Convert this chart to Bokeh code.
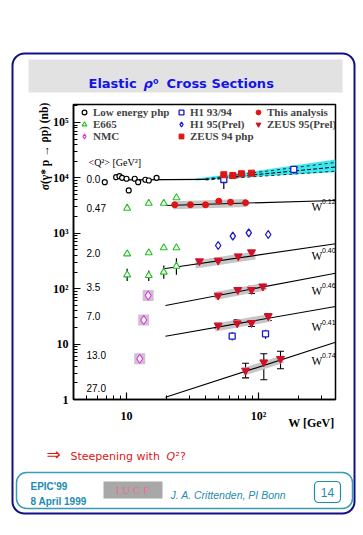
import math
from bokeh.plotting import figure
from bokeh.models import (ColumnDataSource, Whisker, TeeHead, Legend, LegendItem,
                          FixedTicker, Range1d, LinearScale)
from bokeh.core.properties import value
from bokeh.embed import file_html
from bokeh.resources import INLINE

# ---------------- data ----------------
# Low energy photoproduction, Q^2 = 0
lowE_W = [6.85, 8.35, 8.85, 9.27, 10.0, 10.4, 11.55, 12.26, 13.9, 14.76, 16.9]
lowE_sig = [8360, 10300, 10740, 10040, 9640, 5930, 9640, 8360, 9250, 8970, 10040]

# E665
e665_W = [10.12, 14.75, 19.17, 23.9, 10.12, 14.75, 19.17, 23.9, 10.12, 14.75, 19.17, 23.9]
e665_sig = [2840, 3490, 3490, 4370, 426, 445, 547, 547, 178, 173, 199, 255]
e665_errW = [10.12, 14.75, 19.17, 23.9]
e665_lo = [137, 137, 151, 178]
e665_hi = [229, 213, 262, 355]

# NMC
nmc_W = [14.6, 13.5, 12.6]
nmc_sig = [75.4, 27.2, 5.43]

# H1 93/94
h1a_W = [54.6, 185.0, 63.2, 113.0]
h1a_sig = [9350, 14200, 13.9, 15.3]
h1a_lo = [6290, 11850, 11.6, 12.5]
h1a_hi = [11850, 16400, 16.4, 18.1]

# H1 95 (Prel)
h1b_W = [49.5, 63.9, 84.4, 118.5]
h1b_sig = [602, 887, 1021, 951]

# This analysis (Q^2 = 0.47)
this_W = [23.2, 30.5, 39.7, 50.0, 61.4, 79.8]
this_sig = [3270, 3270, 3270, 3800, 3640, 3550]

# ZEUS 94 php
z94_W = [54.6, 63.9, 74.3, 88.5]
z94_sig = [11380, 11050, 11850, 12160]

# ZEUS 95 (Prel): Q^2 = 2.0, 3.5, 7.0, 13.0
z95_W = [35.7, 49.5, 70.2, 88.5,
         49.5, 69.7, 88.5, 107.8,
         49.5, 69.0, 88.5, 118.5,
         79.8, 109.7, 146.8]
z95_sig = [314, 323, 386, 456,
           75.4, 95.5, 95.5, 110,
           21.7, 23.8, 24.2, 31.9,
           3.34, 4.71, 5.43]
z95_lo = [295, 304, 363, 429,
          70, 88, 82, 100,
          18.9, 20.8, 20.8, 26.7,
          2.46, 2.27, 3.58]
z95_hi = [334, 343, 410, 485,
          81, 103, 110, 118,
          23.8, 27.4, 28.6, 35.3,
          4.52, 6.68, 7.45]

# Q^2 = 0 curve and its extrapolation band
q0_solid_W = [10.35, 39.7]
q0_solid_sig = [9240, 9360]
q0_dash_W = [39.7, 383.0]
q0_dash_mid = [9360, 15700]
q0_dash_up = [9600, 19000]
q0_dash_dn = [9150, 13200]
q0_band_W = [33.4, 82.0, 383.0]
q0_band_lo = [8970, 10300, 12680]
q0_band_hi = [9750, 12680, 21500]

# fits  W^delta (end points)
fit_W = {"0.12": [19.75, 383.0], "0.40": [19.17, 383.0], "0.46": [19.75, 383.0],
         "0.41": [19.75, 383.0], "0.74": [19.75, 383.0]}
fit_sig = {"0.12": [3175, 3910], "0.40": [229, 646], "0.46": [49.7, 190.5],
           "0.41": [13.9, 47.7], "0.74": [1.10, 10.8]}

# grey fit-uncertainty bands
band_W = {"0.12": [22.7, 81.0], "0.40": [33.4, 94.8], "0.46": [47.2, 113.0],
          "0.41": [47.2, 123.3], "0.74": [76.9, 154.5]}
band_lo = {"0.12": [2710, 2970], "0.40": [231, 338], "0.46": [62.5, 92.8],
           "0.41": [16.9, 25.3], "0.74": [2.67, 4.56]}
band_hi = {"0.12": [3780, 4140], "0.40": [322, 471], "0.46": [87.2, 129.5],
           "0.41": [23.5, 35.2], "0.74": [3.72, 6.36]}

q2_labels = ["0.0", "0.47", "2.0", "3.5", "7.0", "13.0", "27.0"]
fit_labels = ["0.12", "0.40", "0.46", "0.41", "0.74"]

# ---------------- styling / layout ----------------
RED = "#e01414"
DRED = "#d0102a"
GREEN = "#22c022"
BLUE = "#1a1acc"
MAG = "#e030e0"
TEAL = "#1e8cb0"

# frame position on the page (page px)
FX0, FX1, FY0, FY1 = 73, 335, 104, 399
W_PAGE, H_PAGE = 363, 535

p = figure(width=W_PAGE, height=H_PAGE, x_axis_type="log", y_axis_type="log",
           x_range=Range1d(3.97, 383.0), y_range=Range1d(1.0, 2.11e5),
           output_backend="svg", toolbar_location=None,
           min_border_left=FX0, min_border_right=W_PAGE - FX1,
           min_border_top=FY0, min_border_bottom=H_PAGE - FY1)
# a page-pixel coordinate system for the slide decoration and the texts
p.extra_x_ranges = {"px": Range1d(FX0, FX1)}
p.extra_y_ranges = {"px": Range1d(FY1, FY0)}
p.extra_x_scales = {"px": LinearScale()}
p.extra_y_scales = {"px": LinearScale()}

p.xgrid.visible = False
p.ygrid.visible = False
p.outline_line_color = "black"
p.outline_line_width = 1.5
p.background_fill_color = "white"
p.border_fill_color = "white"

p.yaxis.ticker = FixedTicker(ticks=[1, 10, 100, 1000, 10000, 100000],
                             minor_ticks=[k * 10 ** d for d in range(0, 5) for k in range(2, 10)] + [2e5])
p.xaxis.ticker = FixedTicker(ticks=[10, 100],
                             minor_ticks=[5, 6, 7, 8, 9, 20, 30, 40, 50, 60, 70, 80, 90, 200, 300])
p.yaxis.major_label_overrides = {1: "1", 10: "10", 100: "10²", 1000: "10³",
                                 10000: "10⁴", 100000: "10⁵"}
p.xaxis.major_label_overrides = {10: "10", 100: "10²"}
for ax in (p.xaxis[0], p.yaxis[0]):
    ax.major_tick_in = 7
    ax.major_tick_out = 0
    ax.minor_tick_in = 4
    ax.minor_tick_out = 0
    ax.axis_line_width = 1.5
    ax.major_tick_line_width = 1.2
    ax.major_label_text_font = "Liberation Serif"
    ax.major_label_text_font_style = "bold"
    ax.major_label_text_font_size = "12px"
    ax.major_label_text_color = "black"
p.yaxis.major_label_standoff = 5
p.xaxis.major_label_standoff = 9


def txt(text, X, Y, size, color="black", font="Liberation Sans", style="normal",
        align="left", baseline="middle", angle=0.0):
    p.text(x=[X], y=[Y], text=[text], angle=[angle], x_range_name="px", y_range_name="px",
           level="overlay", text_font=value(font), text_font_size=value(size),
           text_font_style=style, text_color=color, text_align=align,
           text_baseline=baseline)


def box(X0, Y0, X1, Y1, fill=None, line=None, lw=1.5, radius=0):
    p.quad(left=[X0], right=[X1], top=[Y0], bottom=[Y1], x_range_name="px",
           y_range_name="px", level="overlay",
           fill_color=fill if fill else "white", fill_alpha=1.0 if fill else 0.0,
           line_color=line if line else None, line_width=lw, border_radius=radius)


# ---------------- slide decoration ----------------
box(12, 53, 354, 513, line="#10108a", lw=2, radius=12)
box(28, 59, 342, 92, fill="#e2e2e2")
txt("Elastic", 88, 83.3, "13px", color="#1414e6", font="DejaVu Sans", style="bold",
    baseline="alphabetic")
txt("ρ", 143, 83.3, "13px", color="#1414e6", font="DejaVu Sans", style="bold italic",
    baseline="alphabetic")
txt("⁰", 152.5, 83.3, "13px", color="#1414e6", font="DejaVu Sans", style="bold",
    baseline="alphabetic")
txt("Cross Sections", 166, 83.3, "13px", color="#1414e6", font="DejaVu Sans", style="bold",
    baseline="alphabetic")

txt("⇒", 53, 453, "17px", color=RED, font="DejaVu Sans", align="center")
txt("Steepening with", 70, 456, "11px", color=RED, font="DejaVu Sans", baseline="alphabetic")
txt("Q", 166, 456, "11px", color=RED, font="DejaVu Sans", style="italic", baseline="alphabetic")
txt("²?", 175, 456, "11px", color=RED, font="DejaVu Sans", baseline="alphabetic")

box(16, 472, 352, 508, line="#3a9ab8", lw=1.5, radius=10)
txt("EPIC'99", 30, 486, "10px", color=TEAL, style="bold", baseline="alphabetic")
txt("8 April 1999", 30, 501, "10px", color=TEAL, style="bold", baseline="alphabetic")
box(103, 481, 162, 498, fill="#a8a8a8")
txt("I U C F", 132, 489, "11px", color="#e8708c", font="Liberation Serif", align="center")
txt("J. A. Crittenden, PI Bonn", 170, 494.5, "10.5px", color=TEAL, style="italic",
    baseline="alphabetic")
box(314, 481, 340, 502, line=TEAL, lw=1.2, radius=4)
txt("14", 327, 491.5, "12px", color=TEAL, align="center")

# ---------------- data drawing ----------------
p.varea(x=q0_band_W, y1=q0_band_lo, y2=q0_band_hi, fill_color="#3ee6f0")
for k in fit_labels:
    p.varea(x=band_W[k], y1=band_lo[k], y2=band_hi[k], fill_color="#c6c6c6")

p.line(q0_solid_W, q0_solid_sig, line_color="black", line_width=1.2)
p.line(q0_dash_W, q0_dash_mid, line_color="black", line_width=1, line_dash="4 2")
p.line(q0_dash_W, q0_dash_up, line_color="black", line_width=0.8, line_dash="3 3")
p.line(q0_dash_W, q0_dash_dn, line_color="black", line_width=0.8, line_dash="3 3")
for k in fit_labels:
    p.line(fit_W[k], fit_sig[k], line_color="black", line_width=1.1)

p.segment(x0=e665_errW, y0=e665_lo, x1=e665_errW, y1=e665_hi, line_color="black", line_width=1.2)
p.segment(x0=h1a_W, y0=h1a_lo, x1=h1a_W, y1=h1a_hi, line_color="black", line_width=1.2)
z95_src = ColumnDataSource(dict(W=z95_W, lo=z95_lo, hi=z95_hi))
p.add_layout(Whisker(source=z95_src, base="W", lower="lo", upper="hi", dimension="height",
                     line_color="black", line_width=1.1,
                     upper_head=TeeHead(size=7, line_color="black", line_width=1.1),
                     lower_head=TeeHead(size=7, line_color="black", line_width=1.1)))

p.rect(x=nmc_W, y=nmc_sig, width=11, height=11, width_units="screen", height_units="screen",
       fill_color="#d2bed6", line_color=None)

r_lowE = p.scatter(lowE_W, lowE_sig, marker="circle", size=5, fill_color="white",
                   line_color="black", line_width=1.2)
r_e665 = p.scatter(e665_W, e665_sig, marker="triangle", size=7, fill_color="white",
                   line_color=GREEN, line_width=1.1)
r_nmc = p.scatter(nmc_W, nmc_sig, marker="diamond", size=9, fill_color="white",
                  line_color=MAG, line_width=1.1)
r_h1a = p.scatter(h1a_W, h1a_sig, marker="square", size=6, fill_color="white",
                  line_color=BLUE, line_width=1.3)
r_h1b = p.scatter(h1b_W, h1b_sig, marker="diamond", size=8, fill_color="white",
                  line_color=BLUE, line_width=1.3)
r_this = p.scatter(this_W, this_sig, marker="circle", size=6, fill_color=RED, line_color=RED)
r_z94 = p.scatter(z94_W, z94_sig, marker="square", size=6, fill_color=RED, line_color=RED)
r_z95 = p.scatter(z95_W, z95_sig, marker="inverted_triangle", size=8, fill_color=DRED,
                  line_color=DRED)


# ---------------- legends ----------------
def make_legend(items, x):
    rows = len(items)
    leg = Legend(items=[LegendItem(label=t, renderers=[r]) for t, r in items],
                 location=(x, FY1 - 106 - 12 * rows), orientation="vertical",
                 padding=0, margin=0, spacing=0, glyph_width=12, glyph_height=12,
                 label_height=12, label_standoff=3, border_line_alpha=0,
                 background_fill_alpha=0, label_text_font="Liberation Serif",
                 label_text_font_style="bold", label_text_font_size="11px",
                 label_text_baseline="middle")
    p.add_layout(leg)


make_legend([("Low energy php", r_lowE), ("E665", r_e665), ("NMC", r_nmc)], 78 - FX0)
make_legend([("H1 93/94", r_h1a), ("H1 95(Prel)", r_h1b), ("ZEUS 94 php", r_z94)], 175 - FX0)
make_legend([("This analysis", r_this), ("ZEUS 95(Prel)", r_z95)], 252 - FX0)

# ---------------- texts inside the plot ----------------
txt("<Q²> [GeV²]", 88, 161.5, "10px", font="Liberation Serif")
q2_label_y = [178, 207, 252, 286, 315, 354, 387]
for t, yy in zip(q2_labels, q2_label_y):
    txt(t, 86, yy, "10px")
fit_label_y = [206, 255, 290, 326.7, 360]
for t, yy in zip(fit_labels, fit_label_y):
    txt("W", 311, yy, "11.5px", font="Liberation Serif", baseline="alphabetic")
    txt(t, 321.5, yy - 5, "7px", baseline="alphabetic")

txt("σ(γ* p → ρp) (nb)", 44, 146, "11.5px", font="Liberation Serif", style="bold",
    align="center", angle=math.pi / 2)
txt("W [GeV]", 334, 422.5, "12px", font="Liberation Serif", style="bold", align="right")

open("out.html", "w").write(file_html(p, INLINE))
